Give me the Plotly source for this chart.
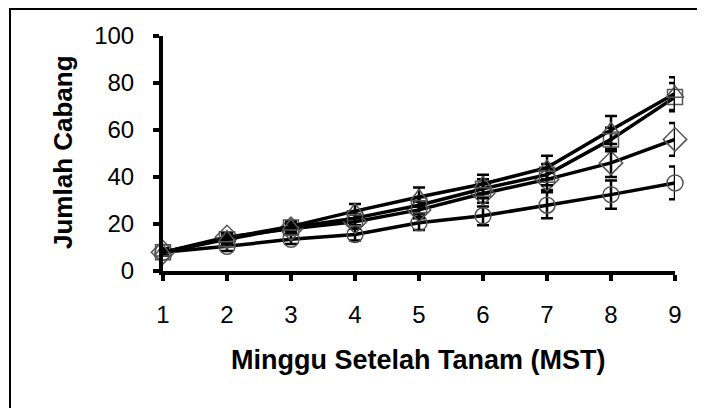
import plotly.graph_objects as go

weeks = [1, 2, 3, 4, 5, 6, 7, 8, 9]
tick_labels = ["1", "2", "3", "4", "5", "6", "7", "8", "9"]

sq_vals = [8, 13.5, 18.5, 22.5, 28, 35, 41, 56, 74]
sq_err = [1.5, 2, 2, 3, 3.5, 4, 4.5, 5, 6]
tri_vals = [8, 14, 19, 25.5, 31.5, 37, 44, 60, 75.5]
tri_err = [1.5, 2, 2, 3, 4, 4, 5, 6, 7]
dia_vals = [8, 14.5, 18, 21, 26, 33, 39, 46, 56]
dia_err = [1.5, 2, 2, 3, 3.5, 4, 4.5, 6, 7]
cir_vals = [8, 10.5, 13.5, 15.5, 20.5, 23.5, 28, 32.5, 37.5]
cir_err = [1.5, 2, 2, 2.5, 3, 4, 5.5, 6, 7]

series = [
    ("circle", cir_vals, cir_err, "circle-open", 16),
    ("diamond", dia_vals, dia_err, "diamond-open", 18),
    ("square", sq_vals, sq_err, "square-open", 15),
    ("triangle", tri_vals, tri_err, "triangle-up-open", 15),
]

fig = go.Figure()
for name, vals, err, sym, size in series:
    fig.add_trace(go.Scatter(
        x=weeks, y=vals, name=name, mode="lines+markers",
        line=dict(color="black", width=3.5),
        marker=dict(symbol=sym, size=size, color="#555555", line=dict(width=1.5, color="#555555")),
        error_y=dict(type="data", array=err, visible=True, color="black", thickness=2.5, width=6),
        cliponaxis=False,
    ))

fig.update_layout(
    width=697, height=400,
    margin=dict(l=155, r=30, t=28, b=137),
    paper_bgcolor="white", plot_bgcolor="white",
    showlegend=False,
    font=dict(family="Liberation Sans, Arial, sans-serif", color="black", size=24),
    xaxis=dict(
        range=[1, 9], tickmode="array", tickvals=weeks, ticktext=tick_labels,
        showline=True, linecolor="black", linewidth=4,
        ticks="outside", ticklen=6, tickwidth=4, tickcolor="black",
        showgrid=False, zeroline=False, ticklabelstandoff=13,
        tickfont=dict(size=24),
    ),
    yaxis=dict(
        range=[0, 100], tickmode="array", tickvals=[0, 20, 40, 60, 80, 100],
        showline=True, linecolor="black", linewidth=4,
        ticks="outside", ticklen=6, tickwidth=4, tickcolor="black",
        showgrid=False, zeroline=False, ticklabelstandoff=14,
        tickfont=dict(size=24),
    ),
    shapes=[dict(
        type="rect", xref="paper", yref="paper",
        x0=(10 - 163) / 512, x1=1.3, y0=-1.0, y1=(271 - 9) / 235,
        line=dict(color="black", width=2), fillcolor="rgba(0,0,0,0)", layer="below",
    )],
    annotations=[
        dict(text="<b>Minggu Setelah Tanam (MST)</b>", xref="paper", yref="paper",
             x=(418 - 163) / 512, y=(271 - 360) / 235, showarrow=False,
             xanchor="center", yanchor="middle", font=dict(size=27)),
        dict(text="<b>Jumlah Cabang</b>", xref="paper", yref="paper",
             x=(63 - 163) / 512, y=(271 - 152) / 235, showarrow=False, textangle=-90,
             xanchor="center", yanchor="middle", font=dict(size=26)),
    ],
)

fig.write_html("out.html")
